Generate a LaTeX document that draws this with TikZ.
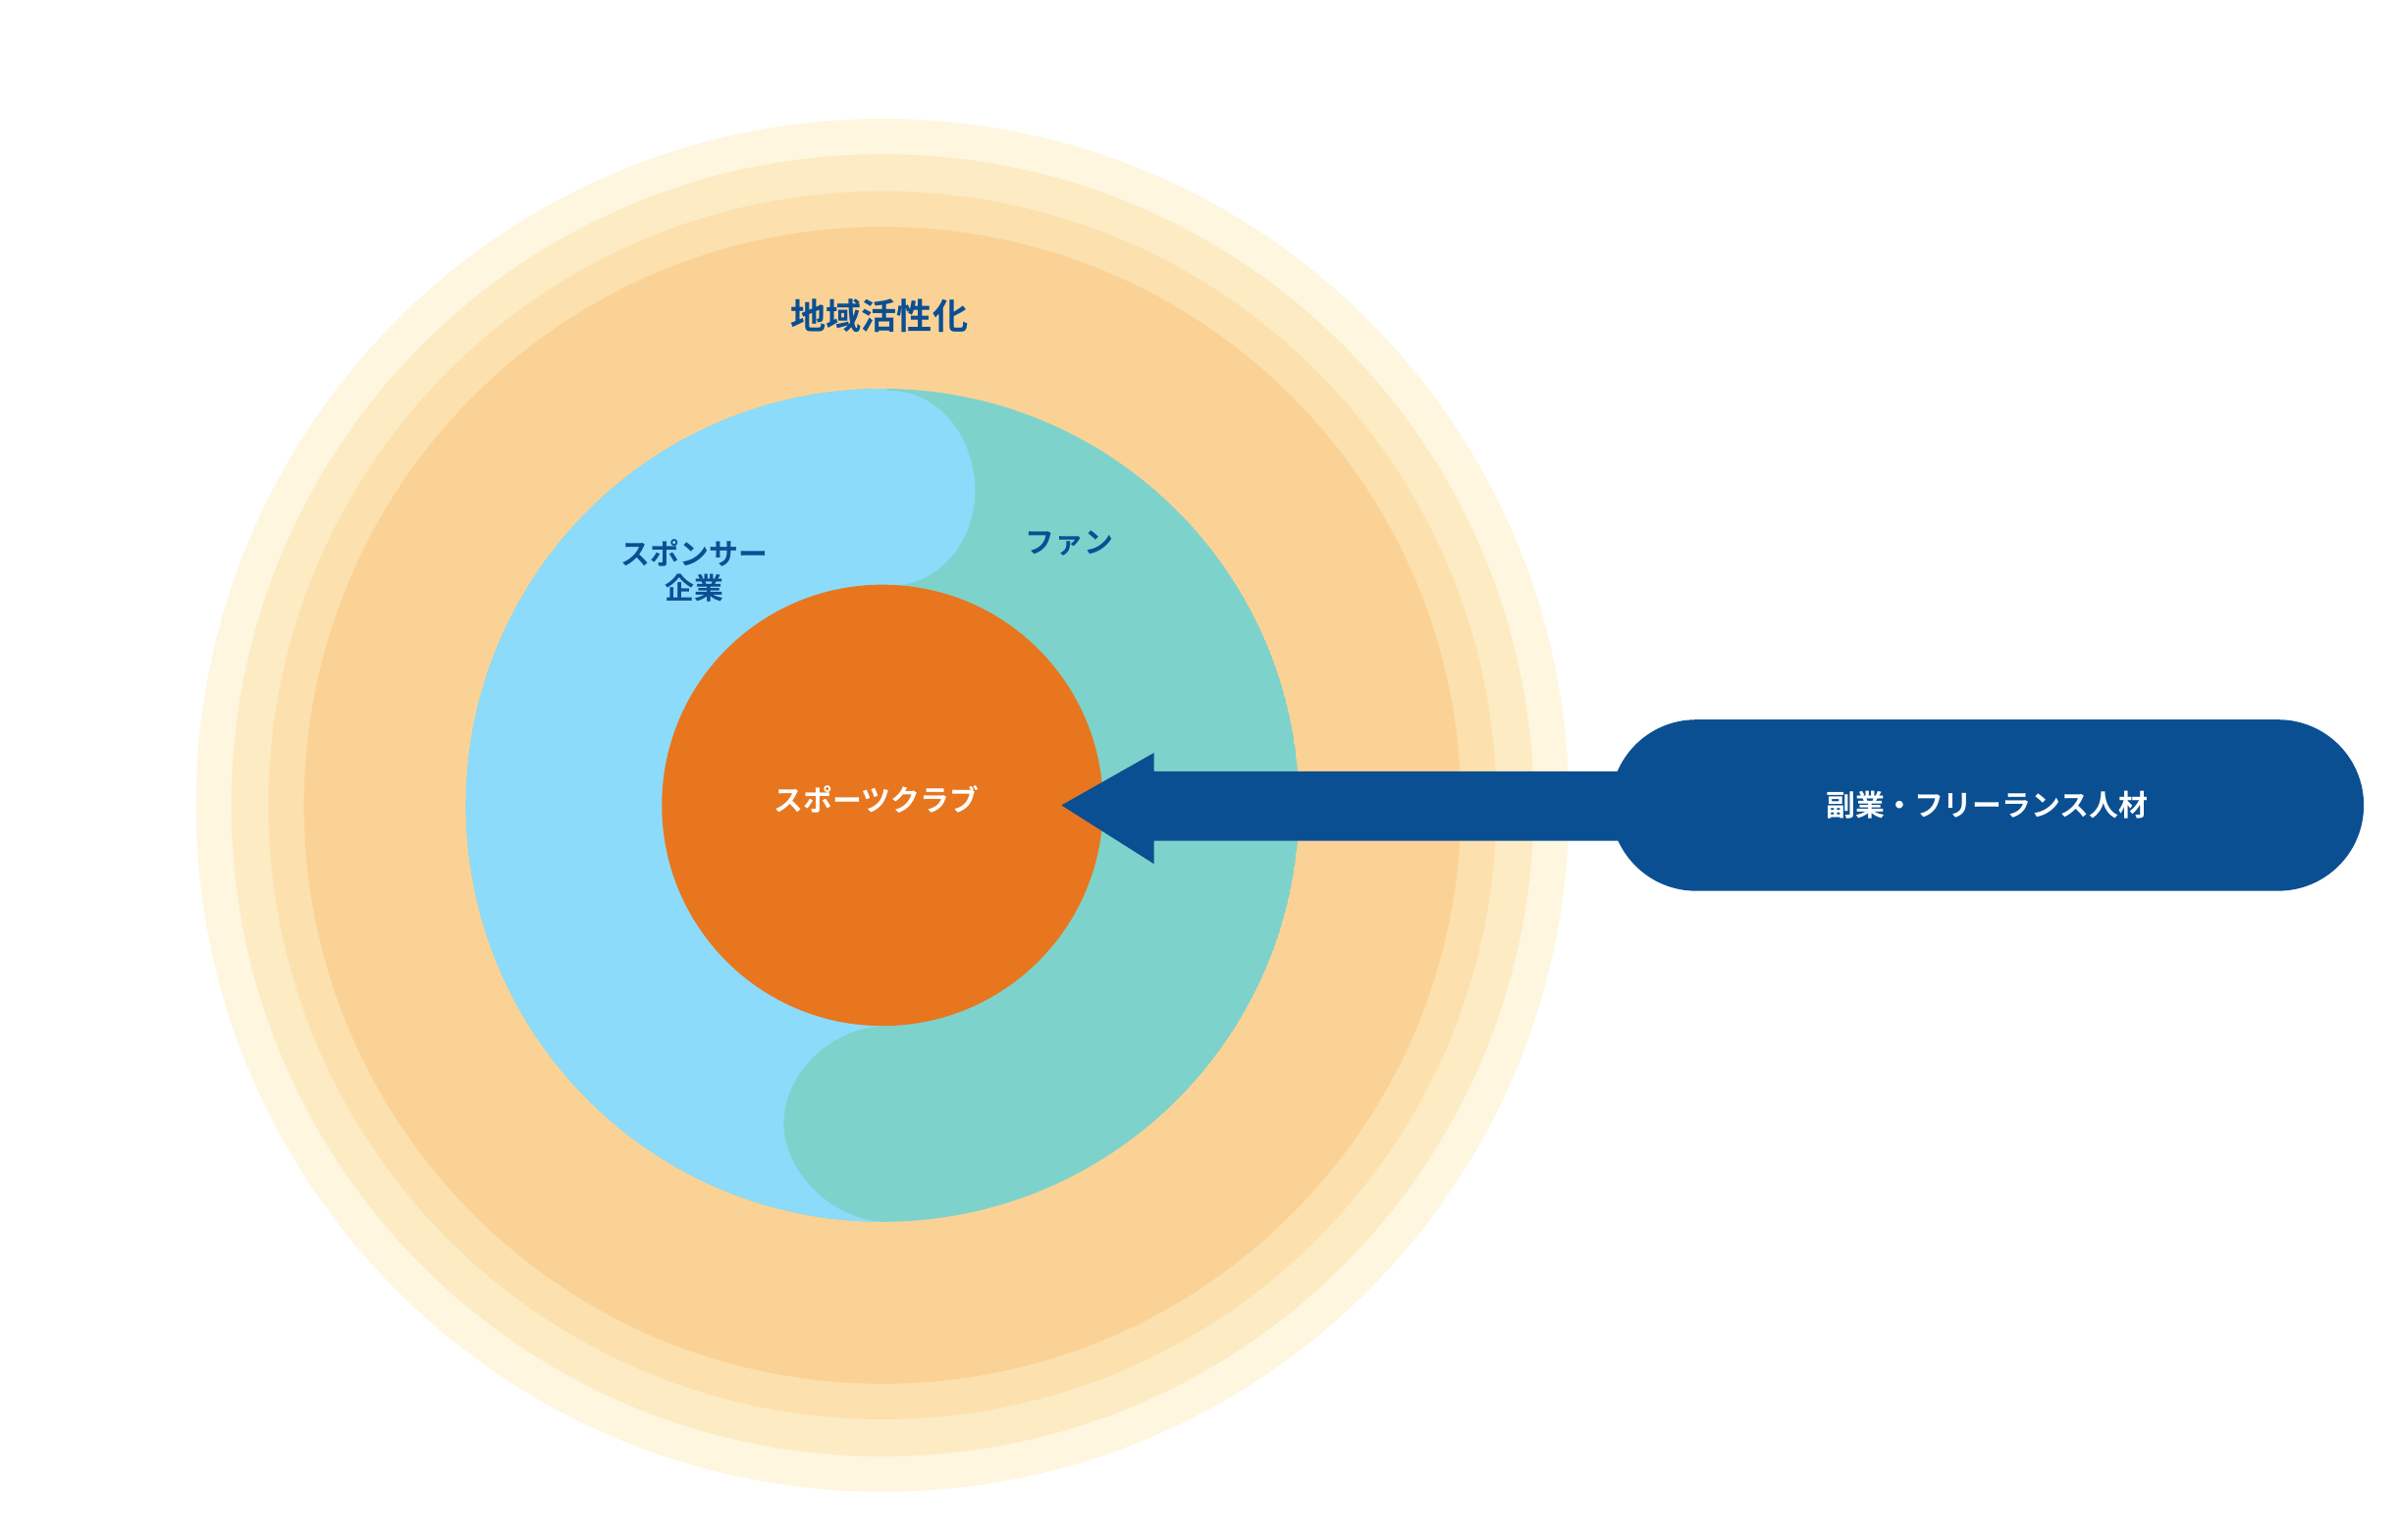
\documentclass[tikz,border=0pt]{standalone}
\usepackage{fontspec}
\newfontfamily\jp{Noto Sans CJK JP Bold}
\usetikzlibrary{shapes.misc}
\definecolor{navy}{HTML}{0B4F93}
\definecolor{glowA}{HTML}{FEF6DF}
\definecolor{glowB}{HTML}{FDEBC4}
\definecolor{glowC}{HTML}{FCE1AE}
\definecolor{ring}{HTML}{FBD296}
\definecolor{lblue}{HTML}{8CDBFA}
\definecolor{teal}{HTML}{7DD3CB}
\definecolor{core}{HTML}{E8761E}
\tikzset{lbl/.style={font=\jp\fontsize{19}{22}\selectfont, text=navy, align=center},
wlbl/.style={font=\jp\fontsize{19}{22}\selectfont, text=white}}
\begin{document}
\begin{tikzpicture}[x=1pt,y=-1pt]
\useasboundingbox (0,0) rectangle (1555,998);
\coordinate (c) at (572,522);
\fill[glowA] (c) circle (445);
\fill[glowB] (c) circle (422);
\fill[glowC] (c) circle (398);
\fill[ring] (c) circle (375);
\begin{scope}
\clip (c) circle (270);
\fill[teal] (c) circle (270);
\fill[lblue] (300,240) -- (575,240) -- (575,253) .. controls (610,253) and (632,285) .. (632,318)
  .. controls (632,350) and (610,380) .. (575,380) -- (575,665)
  .. controls (540,665) and (508,695) .. (508,728) .. controls (508,760) and (540,792) .. (575,792)
  -- (575,800) -- (290,800) -- cycle;
\end{scope}
\fill[core] (c) circle (143);
\node[rounded rectangle, fill=navy, minimum width=495, minimum height=111] (pill) at (1288,522) {};
\fill[navy] (1060,500) -- (748,500) -- (748,488) -- (688,522) -- (748,560) -- (748,545) -- (1060,545) -- cycle;
\node[wlbl] (ext) at (pill.center) {副業・フリーランス人材};
\node[wlbl] (club) at (568,518) {スポーツクラブ};
\node[lbl, font=\jp\fontsize{23}{26}\selectfont] (area) at (570,205) {地域活性化};
\node[lbl] (sp) at (450,370) {スポンサー\\企業};
\node[lbl] (fan) at (693,352) {ファン};
\end{tikzpicture}
\end{document}
